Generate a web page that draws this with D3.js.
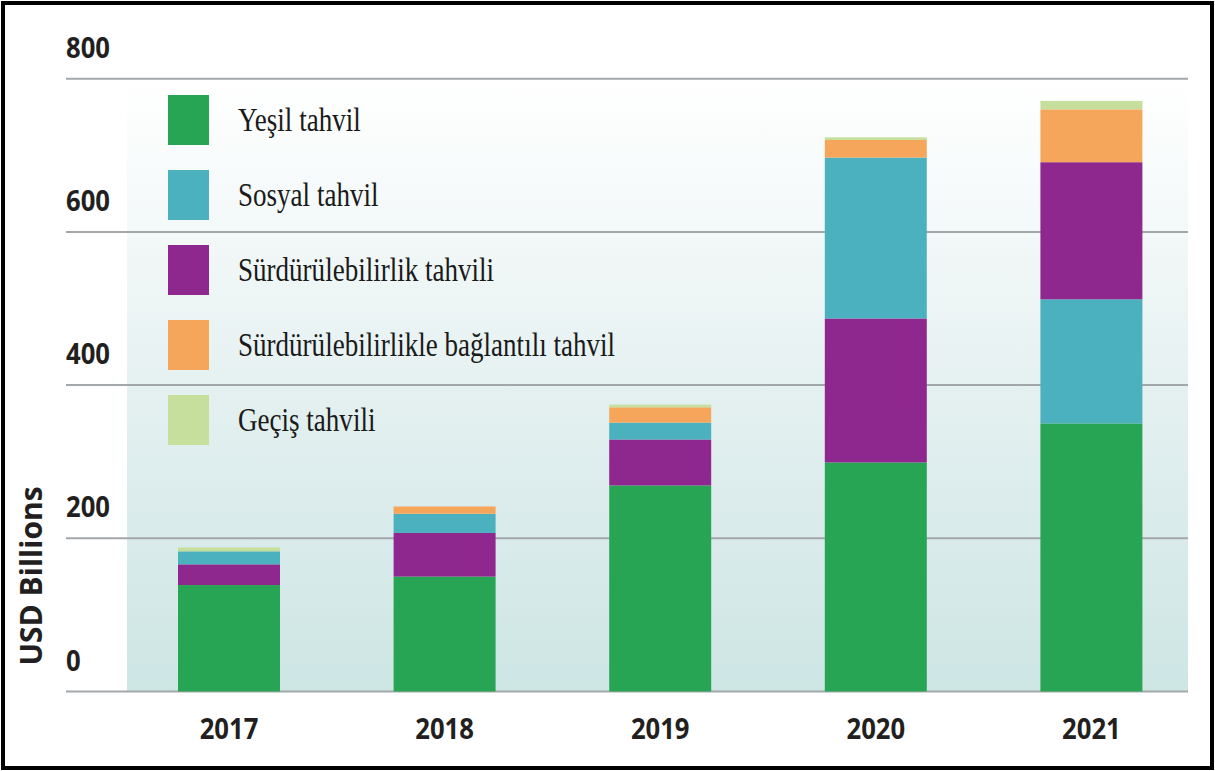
<!DOCTYPE html>
<html>
<head>
<meta charset="utf-8">
<script src="https://cdn.jsdelivr.net/npm/d3@7"></script>
<style>
  html, body { margin: 0; padding: 0; background: #ffffff; }
  svg { display: block; }
</style>
</head>
<body>
<svg id="chart" width="1215" height="771"></svg>
<script>
// ---- data ----
const years = ["2017", "2018", "2019", "2020", "2021"];
const greenBond = [139, 150, 269, 299, 350];            // Yeşil tahvil
const socialBond = [17, 25, 22, 210, 162];              // Sosyal tahvil
const sustainabilityBond = [27, 57, 60, 188, 179];      // Sürdürülebilirlik tahvili
const sustLinkedBond = [0, 9.5, 20, 23, 69];            // Sürdürülebilirlikle bağlantılı tahvil
const transitionBond = [5, 0, 3.5, 3.5, 11];            // Geçiş tahvili
const seriesNames = ["Yeşil tahvil", "Sosyal tahvil", "Sürdürülebilirlik tahvili",
                     "Sürdürülebilirlikle bağlantılı tahvil", "Geçiş tahvili"];
const seriesColors = ["#28a554", "#4bb1be", "#8e278e", "#f6a65b", "#c6df9d"];
// stacking order (bottom to top) per year, as indexes into seriesNames
const stackOrder = [
  [0, 2, 1, 3, 4],
  [0, 2, 1, 3, 4],
  [0, 2, 1, 3, 4],
  [0, 2, 1, 3, 4],
  [0, 1, 2, 3, 4]
];
const yTicks = [0, 200, 400, 600, 800];
const yTitle = "USD Billions";

const seriesValues = [greenBond, socialBond, sustainabilityBond, sustLinkedBond, transitionBond];

// ---- layout ----
const svg = d3.select("#chart");
const gridX0 = 66, gridX1 = 1188, panelX0 = 127;

const y = d3.scaleLinear().domain([0, 800]).range([691.5, 78.7]);
const x = d3.scaleBand().domain(years).range([121.2, 1199.2])
  .paddingInner(0.527).paddingOuter(0.2635);

// background gradient panel
const defs = svg.append("defs");
const grad = defs.append("linearGradient").attr("id", "bg")
  .attr("x1", 0).attr("y1", 0).attr("x2", 0).attr("y2", 1);
grad.append("stop").attr("offset", "0%").attr("stop-color", "#ffffff");
grad.append("stop").attr("offset", "25%").attr("stop-color", "#f3f8f8");
grad.append("stop").attr("offset", "60%").attr("stop-color", "#e0eeee");
grad.append("stop").attr("offset", "100%").attr("stop-color", "#cde6e4");

svg.append("rect")
  .attr("x", panelX0).attr("y", y(800))
  .attr("width", gridX1 - panelX0).attr("height", y(0) - y(800))
  .attr("fill", "url(#bg)");

// gridlines
svg.append("g").selectAll("line").data(yTicks).join("line")
  .attr("x1", gridX0).attr("x2", gridX1)
  .attr("y1", d => y(d)).attr("y2", d => y(d))
  .attr("stroke", "#a3a7aa").attr("stroke-width", 2);

// y tick labels
svg.append("g").selectAll("text").data(yTicks).join("text")
  .attr("transform", d => `translate(${gridX0},${y(d) - 21}) scale(0.95,1.05)`)
  .attr("font-family", "'Open Sans', sans-serif").attr("font-weight", 700)
  .attr("font-size", 27).attr("fill", "#231f20")
  .text(d => d);

// y title
svg.append("text")
  .attr("transform", `translate(42,${576}) rotate(-90)`)
  .attr("text-anchor", "middle")
  .attr("font-family", "'Open Sans', sans-serif").attr("font-weight", 700)
  .attr("font-size", 30).attr("fill", "#231f20")
  .text(yTitle);

// stacked bars
const segs = [];
years.forEach((yr, i) => {
  let acc = 0;
  stackOrder[i].forEach(s => {
    const v = seriesValues[s][i];
    if (v > 0) segs.push({ year: yr, s, y0: acc, y1: acc + v });
    acc += v;
  });
});
svg.append("g").selectAll("rect").data(segs).join("rect")
  .attr("x", d => x(d.year)).attr("width", x.bandwidth())
  .attr("y", d => y(d.y1)).attr("height", d => y(d.y0) - y(d.y1))
  .attr("fill", d => seriesColors[d.s]);

// x labels
svg.append("g").selectAll("text").data(years).join("text")
  .attr("transform", d => `translate(${x(d) + x.bandwidth() / 2},739) scale(0.95,1.05)`)
  .attr("text-anchor", "middle")
  .attr("font-family", "'Open Sans', sans-serif").attr("font-weight", 700)
  .attr("font-size", 27).attr("fill", "#231f20")
  .text(d => d);

// legend
const leg = svg.append("g");
const legY = d3.scaleBand().domain(d3.range(seriesNames.length)).range([95, 95 + 75 * 5]);
seriesNames.forEach((name, i) => {
  leg.append("rect").attr("x", 168).attr("y", legY(i))
    .attr("width", 41).attr("height", 50).attr("fill", seriesColors[i]);
  leg.append("text")
    .attr("transform", `translate(238,${legY(i) + 36}) scale(0.82,1)`)
    .attr("font-family", "'Liberation Serif', 'Times New Roman', serif")
    .attr("font-size", 33).attr("fill", "#1a1a1a")
    .text(name);
});

// frame
svg.append("rect").attr("x", 3).attr("y", 3).attr("width", 1209).attr("height", 765)
  .attr("fill", "none").attr("stroke", "#000").attr("stroke-width", 4);
</script>
</body>
</html>
